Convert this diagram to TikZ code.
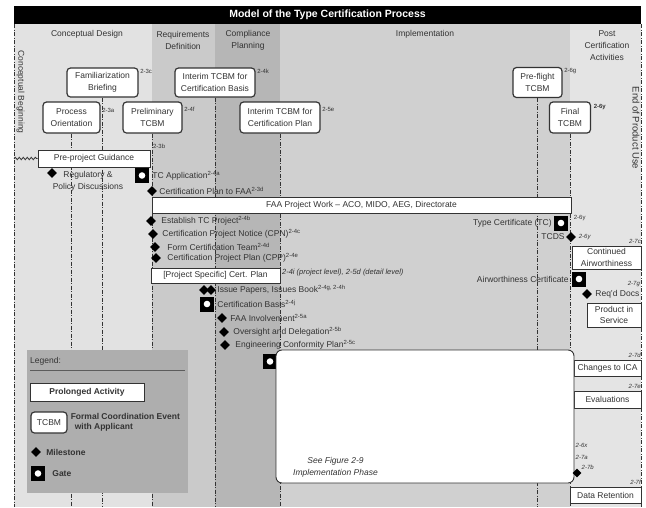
\documentclass[tikz,border=0pt]{standalone}
\usepackage{fontspec}
\setmainfont{Liberation Sans}
\usetikzlibrary{positioning}
\usetikzlibrary{shapes.geometric}
\usetikzlibrary{decorations.pathmorphing}
\definecolor{conceptgray}{HTML}{E2E2E2}
\definecolor{reqgray}{HTML}{CACACA}
\definecolor{compgray}{HTML}{B6B6B6}
\definecolor{implgray}{HTML}{D0D0D0}
\definecolor{postgray}{HTML}{E4E4E4}
\definecolor{legendgray}{HTML}{AEAEAE}
\definecolor{inkgray}{HTML}{333333}
\newcommand{\figfont}{\fontsize{8.5}{11.5}\selectfont}
\newcommand{\rf}[1]{\textsuperscript{#1}}
\tikzstyle{phase}=[font=\fontsize{8.5}{12}\selectfont, align=center, text=inkgray, inner sep=1pt]
\tikzstyle{tcbm}=[draw=inkgray, line width=1.2pt, fill=white, rounded corners=3.5pt, align=center, font=\figfont, text=inkgray, inner sep=1pt]
\tikzstyle{activity}=[draw=inkgray, line width=0.9pt, fill=white, align=center, font=\figfont, text=inkgray, inner sep=1pt]
\tikzstyle{milestone}=[diamond, fill=black, inner sep=0pt, minimum size=10pt]
\tikzstyle{gate}=[fill=black, inner sep=0pt, minimum width=14pt, minimum height=15pt, path picture={\fill[white] (path picture bounding box.center) circle (3.3pt);}]
\tikzstyle{note}=[font=\figfont, text=inkgray, inner sep=1pt]
\tikzstyle{refno}=[font=\fontsize{6}{7}\selectfont, text=inkgray, inner sep=0.5pt]
\tikzstyle{lifeline}=[inkgray, line width=0.6pt, dash pattern=on 4pt off 1.5pt on 1pt off 1.5pt]

\begin{document}
\begin{tikzpicture}[x=1pt, y=-1pt]
  \useasboundingbox (0,0) rectangle (646,507);
  % phase bands
  \fill[conceptgray] (14,24) rectangle (152,507);
  \fill[reqgray] (152,24) rectangle (215,507);
  \fill[compgray] (215,24) rectangle (280,507);
  \fill[implgray] (280,24) rectangle (570,507);
  \fill[postgray] (570,24) rectangle (641,507);
  \fill[black] (14,6) rectangle (641,24);
  \node[font=\bfseries\fontsize{10.5}{12}\selectfont, text=white] (title) at (327.5,15) {Model of the Type Certification Process};

  \node[phase] (hconcept) at (87,34) {Conceptual Design};
  \node[phase] (hreq) at (183,40.5) {Requirements\\Definition};
  \node[phase] (hcomp) at (248,40.5) {Compliance\\Planning};
  \node[phase] (himpl) at (425,34) {Implementation};
  \node[phase] (hpost) at (607,46) {Post\\Certification\\Activities};

  % project boundaries
  \coordinate (cbtop) at (14,24);
  \coordinate (cbbot) at (14,507);
  \coordinate (eputop) at (641,24);
  \coordinate (epubot) at (641,507);
  \draw[lifeline] (cbtop) -- (cbbot);
  \draw[lifeline] (eputop) -- (epubot);
  \node[phase, rotate=-90] (cbegin) at (20.5,92) {Conceptual Beginning};
  \node[phase, rotate=-90, font=\fontsize{9.5}{11}\selectfont] (epuse) at (636,128) {End of Product Use};

  % coordination meetings
  \node[tcbm, minimum width=71pt, minimum height=29pt] (famb) at (102.5,82.5) {Familiarization\\Briefing};
  \node[tcbm, minimum width=57pt, minimum height=31pt] (proc) at (71.5,117.5) {Process\\Orientation};
  \node[tcbm, minimum width=59pt, minimum height=31pt] (prelim) at (152.5,117.5) {Preliminary\\TCBM};
  \node[tcbm, minimum width=80pt, minimum height=29pt] (icbasis) at (215,82.5) {Interim TCBM for\\Certification Basis};
  \node[tcbm, minimum width=80pt, minimum height=31pt] (icplan) at (280,117.5) {Interim TCBM for\\Certification Plan};
  \node[tcbm, minimum width=49pt, minimum height=30pt] (preflt) at (537.5,82.5) {Pre-flight\\TCBM};
  \node[tcbm, minimum width=41pt, minimum height=31pt] (finaltc) at (570,117.5) {Final\\TCBM};
  \node[refno, anchor=west] at ([xshift=1pt, yshift=-4pt]famb.north east) {2-3c};
  \node[refno, anchor=west] at ([xshift=1pt, yshift=-9pt]proc.north east) {2-3a};
  \node[refno, anchor=west] at ([xshift=1pt, yshift=-8pt]prelim.north east) {2-4f};
  \node[refno, anchor=west] at ([xshift=1pt, yshift=-4pt]icbasis.north east) {2-4k};
  \node[refno, anchor=west] at ([xshift=1pt, yshift=-8pt]icplan.north east) {2-5e};
  \node[refno, anchor=west] at ([xshift=1pt, yshift=-4pt]preflt.north east) {2-6g};
  \node[refno, anchor=west, font=\bfseries\fontsize{6}{7}\selectfont] at ([xshift=2pt, yshift=-6pt]finaltc.north east) {2-6y};
  \foreach \tc in {famb, proc, prelim, icbasis, icplan, preflt, finaltc}
    \draw[lifeline] (\tc.south) -- (\tc.south |- cbbot);

  % prolonged activities
  \node[activity, minimum width=112pt, minimum height=17pt] (preguide) at (94,158.5) {Pre-project Guidance};
  \coordinate (wavestart) at (14,158.5);
  \draw[inkgray, line width=0.8pt, decorate, decoration={snake, amplitude=1.2pt, segment length=4pt}] (wavestart) -- (preguide.west);
  \node[refno, anchor=south west] at ([xshift=2pt]preguide.north east) {2-3b};
  \node[activity, minimum width=419pt, minimum height=16pt] (faawork) at (361.5,205) {FAA Project Work -- ACO, MIDO, AEG, Directorate};
  \node[activity, minimum width=129pt, minimum height=15pt] (certplan) at (215.5,275.5) {[Project Specific] Cert. Plan};
  \node[refno, anchor=north west, font=\itshape\fontsize{7.5}{8}\selectfont] at ([xshift=1pt, yshift=-1pt]certplan.north east) {2-4i (project level), 2-5d (detail level)};
  \node[activity, minimum width=69pt, minimum height=23pt] (contair) at (606.5,257.5) {Continued\\Airworthiness};
  \node[activity, minimum width=54pt, minimum height=24pt] (prodserv) at (614,315) {Product in\\Service};
  \node[activity, minimum width=67pt, minimum height=16pt] (chgica) at (607.5,368) {Changes to ICA};
  \node[activity, minimum width=67pt, minimum height=17pt] (evals) at (607.5,399.5) {Evaluations};
  \node[activity, minimum width=71pt, minimum height=16pt] (dataret) at (605.5,495) {Data Retention};
  \node[refno, anchor=south east, font=\itshape\fontsize{6}{7}\selectfont] at ([yshift=1pt]contair.north east) {2-7c};
  \node[refno, anchor=south east, font=\itshape\fontsize{6}{7}\selectfont] at ([yshift=1pt]chgica.north east) {2-7d};
  \node[refno, anchor=south east, font=\itshape\fontsize{6}{7}\selectfont] at ([yshift=1pt]evals.north east) {2-7e};
  \node[refno, anchor=south east, font=\itshape\fontsize{6}{7}\selectfont] at ([yshift=1pt]dataret.north east) {2-7f};

  % implementation phase
  \node[gate] (implgate) at (270,361.5) {};
  \node[activity, rounded corners=6pt, minimum width=298pt, minimum height=133pt] (implbox) at (425,416.5) {};
  \node[note, font=\figfont\itshape, align=center] (seefig) at (335.5,467.5) {See Figure 2-9\\Implementation Phase};

  % milestones and gates
  \node[milestone] (regpol) at (52,173) {};
  \node[note, align=center] (regpoltxt) at (88,181.5) {Regulatory \&\\Policy Discussions};
  \node[gate] (tcapp) at (142,175.5) {};
  \node[note, right=2pt of tcapp] {TC Application\rf{2-4a}};
  \node[milestone] (cpfaa) at (152,191) {};
  \node[note, right=1pt of cpfaa] {Certification Plan to FAA\rf{2-3d}};
  \node[milestone] (esttc) at (151,221) {};
  \node[note, right=4pt of esttc] {Establish TC Project\rf{2-4b}};
  \node[milestone] (cpn) at (153,234) {};
  \node[note, right=3pt of cpn] {Certification Project Notice (CPN)\rf{2-4c}};
  \node[milestone] (formteam) at (155,247) {};
  \node[note, right=6pt of formteam] {Form Certification Team\rf{2-4d}};
  \node[milestone] (cpp) at (156,258) {};
  \node[note, right=5pt of cpp] {Certification Project Plan (CPP)\rf{2-4e}};
  \node[milestone] (issuea) at (204,290) {};
  \node[milestone] (issueb) at (211,290) {};
  \node[note, right=0pt of issueb] {Issue Papers, Issues Book\rf{2-4g, 2-4h}};
  \node[gate] (certbasis) at (207,304) {};
  \node[note, right=2pt of certbasis] {Certification Basis\rf{2-4j}};
  \node[milestone] (faainv) at (222,318) {};
  \node[note, right=2pt of faainv] {FAA Involvement\rf{2-5a}};
  \node[milestone] (oversight) at (224,332) {};
  \node[note, right=3pt of oversight] {Oversight and Delegation\rf{2-5b}};
  \node[milestone] (engconf) at (225,345) {};
  \node[note, right=4pt of engconf] {Engineering Conformity Plan\rf{2-5c}};

  \node[gate] (tcgate) at (561,223) {};
  \node[note, left=1pt of tcgate] {Type Certificate (TC)};
  \node[refno, anchor=west] at ([xshift=5pt, yshift=5pt]tcgate.east) {2-6y};
  \node[milestone] (tcds) at (571,237) {};
  \node[note, left=0pt of tcds] {TCDS};
  \node[refno, right=2pt of tcds, font=\itshape\fontsize{6}{7}\selectfont] {2-6y};
  \node[gate] (awgate) at (579,279) {};
  \node[note, left=2pt of awgate] {Airworthiness Certificate};
  \node[milestone] (reqdocs) at (587,294) {};
  \node[note, right=2pt of reqdocs] (reqdocstxt) {Req'd Docs};
  \node[refno, anchor=south east, font=\itshape\fontsize{6}{7}\selectfont] at ([yshift=1pt]reqdocstxt.north east) {2-7g};
  \node[milestone, minimum size=9pt] (implend) at (577,473) {};
  \node[refno, anchor=west, font=\itshape\fontsize{6}{7}\selectfont] at (575,445) {2-6x};
  \node[refno, anchor=west, font=\itshape\fontsize{6}{7}\selectfont] at (575,457) {2-7a};
  \node[refno, anchor=west, font=\itshape\fontsize{6}{7}\selectfont] at (581,467) {2-7b};

  % legend
  \fill[legendgray] (27,350) rectangle (188,493);
  \node[note, anchor=west] (legtitle) at (29,361) {Legend:};
  \draw[inkgray!80, line width=0.7pt] (30,370) -- (185,370);
  \node[activity, font=\bfseries\figfont, minimum width=114pt, minimum height=18pt] (legact) at (87,392) {Prolonged Activity};
  \node[tcbm, minimum width=36pt, minimum height=21pt] (legtcbm) at (49,422.5) {TCBM};
  \node[note, font=\bfseries\fontsize{8.5}{10.5}\selectfont, align=left, right=2pt of legtcbm] {Formal Coordination Event\\\hspace*{4pt}with Applicant};
  \node[milestone] (legms) at (36,452) {};
  \node[note, font=\bfseries\figfont, right=4pt of legms] {Milestone};
  \node[gate] (leggate) at (38,473.5) {};
  \node[note, font=\bfseries\figfont, right=6pt of leggate] {Gate};
\end{tikzpicture}
\end{document}
